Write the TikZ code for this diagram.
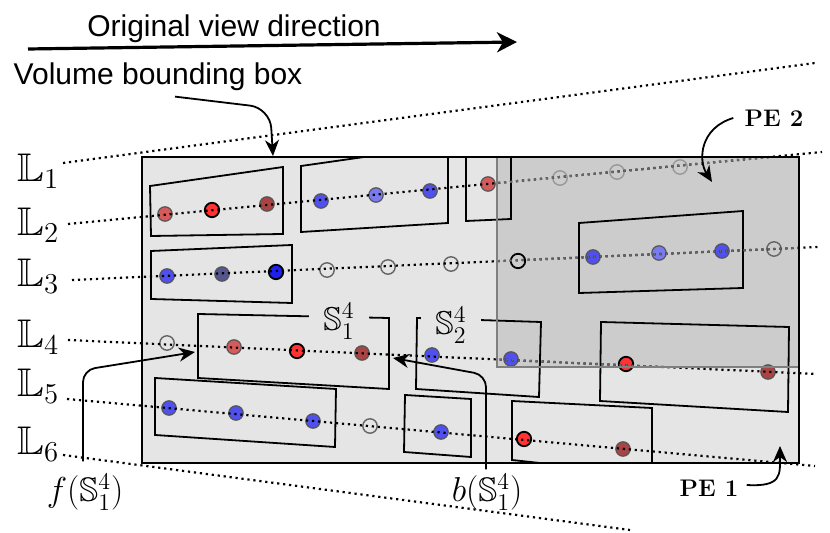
\documentclass[tikz,border=0pt]{standalone}
\usepackage{amsmath}
\usepackage{amssymb}
\usepackage{fontspec}
\usepackage{xcolor}
\usepackage{tikz}
\usetikzlibrary{arrows.meta,calc,positioning}
\newfontfamily\vrsans{Liberation Sans}
\definecolor{vrRed}{HTML}{FF3333}
\definecolor{vrRedSoft}{HTML}{D65A5A}
\definecolor{vrRedDark}{HTML}{A84444}
\definecolor{vrBlue}{HTML}{5050EE}
\definecolor{vrBlueSoft}{HTML}{7A7AF0}
\definecolor{vrBlueDark}{HTML}{55558F}
\definecolor{vrBlueDeep}{HTML}{2020EE}
\definecolor{vrRim}{HTML}{555555}
\definecolor{vrRing}{HTML}{666666}
\definecolor{vrRingLight}{HTML}{999999}
\definecolor{vrPanel}{HTML}{E5E5E5}
\definecolor{vrShade}{HTML}{CCCCCC}
\definecolor{vrEdge}{HTML}{7F7F7F}
\tikzset{
  vrball/.style={
    circle,
    inner sep=0pt,
    minimum size=7.2pt,
    fill=#1,
    draw=vrRim,
    line width=0.6pt
  },
  vrhot/.style={vrball=#1, draw=black, line width=0.9pt},
  vrring/.style={circle, inner sep=0pt, minimum size=7.2pt, draw=#1, line width=0.7pt},
  vrray/.style={dash pattern=on 1.1pt off 1.9pt, line width=1.1pt, draw=#1},
  vrbrick/.style={draw=black, line width=0.9pt},
  vrarrow/.style={-{Stealth[length=8pt,width=7pt,inset=2.5pt]}, line width=0.9pt},
  vrbig/.style={-{Stealth[length=10pt,width=10pt,inset=3pt]}, line width=1.6pt},
  vrtext/.style={font=\vrsans\fontsize{15}{18}\selectfont, inner sep=1pt},
  vrlab/.style={font=\fontsize{20}{24}\selectfont, inner sep=1pt},
  vrmath/.style={font=\fontsize{17}{20}\selectfont, inner sep=1pt},
  vrtag/.style={font=\fontsize{16.5}{19}\selectfont, fill=vrPanel, inner xsep=7pt, inner ysep=1pt},
  vrpe/.style={font=\fontsize{12}{14}\selectfont\bfseries, inner sep=1pt}
}

\begin{document}
\begin{tikzpicture}[x=0.5pt, y=-0.5pt]
  \useasboundingbox (0,0) rectangle (830,533);

  % view direction and volume label
  \node[vrtext, anchor=base] (ovd) at (234,37) {Original view direction};
  \coordinate (va) at (28,49);
  \coordinate (vb) at (517,42);
  \draw[vrbig] (va) -- (vb);
  \node[vrtext, anchor=base] (vbb) at (158,85) {Volume bounding box};

  % volume and PE 2 region
  \fill[vrPanel] (142,157) rectangle (799,463);
  \fill[vrShade] (497,157) rectangle (799,367);

  % bricks
  \begin{scope}
    \clip (142,157) rectangle (799,463);
    \draw[vrbrick] (150,186) -- (283,167) -- (283,234) -- (151,236) -- cycle;
    \draw[vrbrick] (301,166) -- (448,145) -- (448,223) -- (301,232) -- cycle;
    \draw[vrbrick] (466,140) -- (511,140) -- (511,219) -- (466,221) -- cycle;
    \draw[vrbrick] (151,251) -- (292,245) -- (292,303) -- (151,299) -- cycle;
    \draw[vrbrick] (579,223) -- (743,211) -- (743,288) -- (579,293) -- cycle;
    \draw[vrbrick] (198,314) -- (389,318) -- (389,389) -- (198,378) -- cycle;
    \draw[vrbrick] (417,318) -- (541,322) -- (539,397) -- (416,389) -- cycle;
    \draw[vrbrick] (601,322) -- (789,327) -- (788,412) -- (600,401) -- cycle;
    \draw[vrbrick] (155,378) -- (336,389) -- (335,447) -- (155,435) -- cycle;
    \draw[vrbrick] (405,395) -- (471,399) -- (471,457) -- (404,452) -- cycle;
    \draw[vrbrick] (512,401) -- (652,408) -- (652,475) -- (512,460) -- cycle;
  \end{scope}

  % samples on ray 2
  \node[vrball=vrRedSoft] (c2a) at (165,214) {};
  \node[vrhot=vrRed] (c2b) at (212,210) {};
  \node[vrball=vrRedDark] (c2c) at (267,204) {};
  \node[vrball=vrBlue] (c2d) at (321,201) {};
  \node[vrball=vrBlueSoft] (c2e) at (376,195) {};
  \node[vrball=vrBlue] (c2f) at (430,191) {};
  \node[vrball=vrRedSoft] (c2g) at (488,184) {};
  \node[vrring=vrRingLight] (c2h) at (560,178) {};
  \node[vrring=vrRingLight] (c2i) at (617,172) {};
  \node[vrring=vrRingLight] (c2j) at (680,167) {};
  % samples on ray 3
  \node[vrball=vrBlue] (c3a) at (167,276) {};
  \node[vrball=vrBlueDark] (c3b) at (222,274) {};
  \node[vrhot=vrBlueDeep] (c3c) at (276,272) {};
  \node[vrring=vrRing] (c3d) at (327,270) {};
  \node[vrring=vrRing] (c3e) at (388,267) {};
  \node[vrring=vrRing] (c3f) at (451,264) {};
  \node[vrring=black, line width=0.9pt] (c3g) at (518,261) {};
  \node[vrball=vrBlue] (c3h) at (593,257) {};
  \node[vrball=vrBlueSoft] (c3i) at (659,253) {};
  \node[vrball=vrBlue] (c3j) at (722,251) {};
  \node[vrring=vrRing] (c3k) at (774,249) {};
  % samples on ray 4
  \node[vrring=vrRing] (c4a) at (167,343) {};
  \node[vrball=vrRedSoft] (c4b) at (234,347) {};
  \node[vrhot=vrRed] (c4c) at (297,351) {};
  \node[vrball=vrRedDark] (c4d) at (362,353) {};
  \node[vrball=vrBlue] (c4e) at (432,355) {};
  \node[vrball=vrBlue] (c4f) at (511,359) {};
  \node[vrhot=vrRed] (c4g) at (626,364) {};
  \node[vrball=vrRedDark] (c4h) at (768,372) {};
  % samples on ray 5
  \node[vrball=vrBlue] (c5a) at (169,408) {};
  \node[vrball=vrBlue] (c5b) at (236,413) {};
  \node[vrball=vrBlue] (c5c) at (313,421) {};
  \node[vrring=vrRing] (c5d) at (370,426) {};
  \node[vrball=vrBlue] (c5e) at (441,432) {};
  \node[vrhot=vrRed] (c5f) at (524,439) {};
  \node[vrball=vrRedDark] (c5g) at (623,449) {};

  % rays
  \coordinate (r1s) at (63,163);  \coordinate (r1e) at (815,63);
  \coordinate (r2s) at (68,224);  \coordinate (r2e) at (822,152);
  \coordinate (r3s) at (72,280);  \coordinate (r3e) at (818,247);
  \coordinate (r4s) at (68,340);  \coordinate (r4e) at (817,374);
  \coordinate (r5s) at (67,399);  \coordinate (r5e) at (815,466);
  \coordinate (r6s) at (63,455);  \coordinate (r6e) at (630,530);
  \draw[vrray=black] (r1s) -- (r1e) (r2s) -- (r2e) (r3s) -- (r3e)
    (r4s) -- (r4e) (r5s) -- (r5e) (r6s) -- (r6e);
  \begin{scope}
    \clip (497,157) rectangle (799,367);
    \draw[vrray=vrRing] (r2s) -- (r2e) (r3s) -- (r3e) (r4s) -- (r4e);
  \end{scope}
  \draw[draw=vrEdge, line width=1pt] (497,157) rectangle (799,367);
  \draw[line width=1.3pt] (142,157) rectangle (799,463);

  % ray labels
  \node[vrlab, anchor=base west] (L1) at (15,182) {$\mathbb{L}_1$};
  \node[vrlab, anchor=base west] (L2) at (15,236) {$\mathbb{L}_2$};
  \node[vrlab, anchor=base west] (L3) at (15,287) {$\mathbb{L}_3$};
  \node[vrlab, anchor=base west] (L4) at (15,348) {$\mathbb{L}_4$};
  \node[vrlab, anchor=base west] (L5) at (15,397) {$\mathbb{L}_5$};
  \node[vrlab, anchor=base west] (L6) at (15,455) {$\mathbb{L}_6$};

  % segment labels
  \node[vrtag] (s14) at (339,321) {$\mathbb{S}_1^4$};
  \node[vrtag] (s24) at (451,325) {$\mathbb{S}_2^4$};
  \node[vrmath] (fS) at (85,492) {$f(\mathbb{S}_1^4)$};
  \node[vrmath] (bS) at (487,492) {$b(\mathbb{S}_1^4)$};
  \node[vrpe] (pe2) at (774,118) {PE 2};
  \node[vrpe] (pe1) at (709,488) {PE 1};

  % pointers
  \coordinate (vbbhit) at (273,156);
  \draw[vrarrow, rounded corners=10pt] ([xshift=8.5pt,yshift=-1.5pt]vbb.south) -- (270,108) -- (vbbhit);
  \coordinate (fbend) at (83,370);
  \coordinate (fhit) at (195,352);
  \draw[vrarrow, rounded corners=6pt] ($(fS.north -| fbend)+(0,-10)$) -- (fbend) -- (fhit);
  \coordinate (bbend) at (486,375);
  \coordinate (bhit) at (393,358);
  \draw[vrarrow, rounded corners=6pt] ($(bS.north -| bbend)+(0,-2)$) -- (bbend) -- (bhit);
  \coordinate (pe2hit) at (712,182);
  \draw[vrarrow] ([xshift=-4.5pt]pe2.west) .. controls (700,128) and (698,160) .. (pe2hit);
  \coordinate (pe1hit) at (780,446);
  \draw[vrarrow] ([xshift=3pt,yshift=1.5pt]pe1.east) .. controls (782,487) and (780,475) .. (pe1hit);
\end{tikzpicture}
\end{document}
